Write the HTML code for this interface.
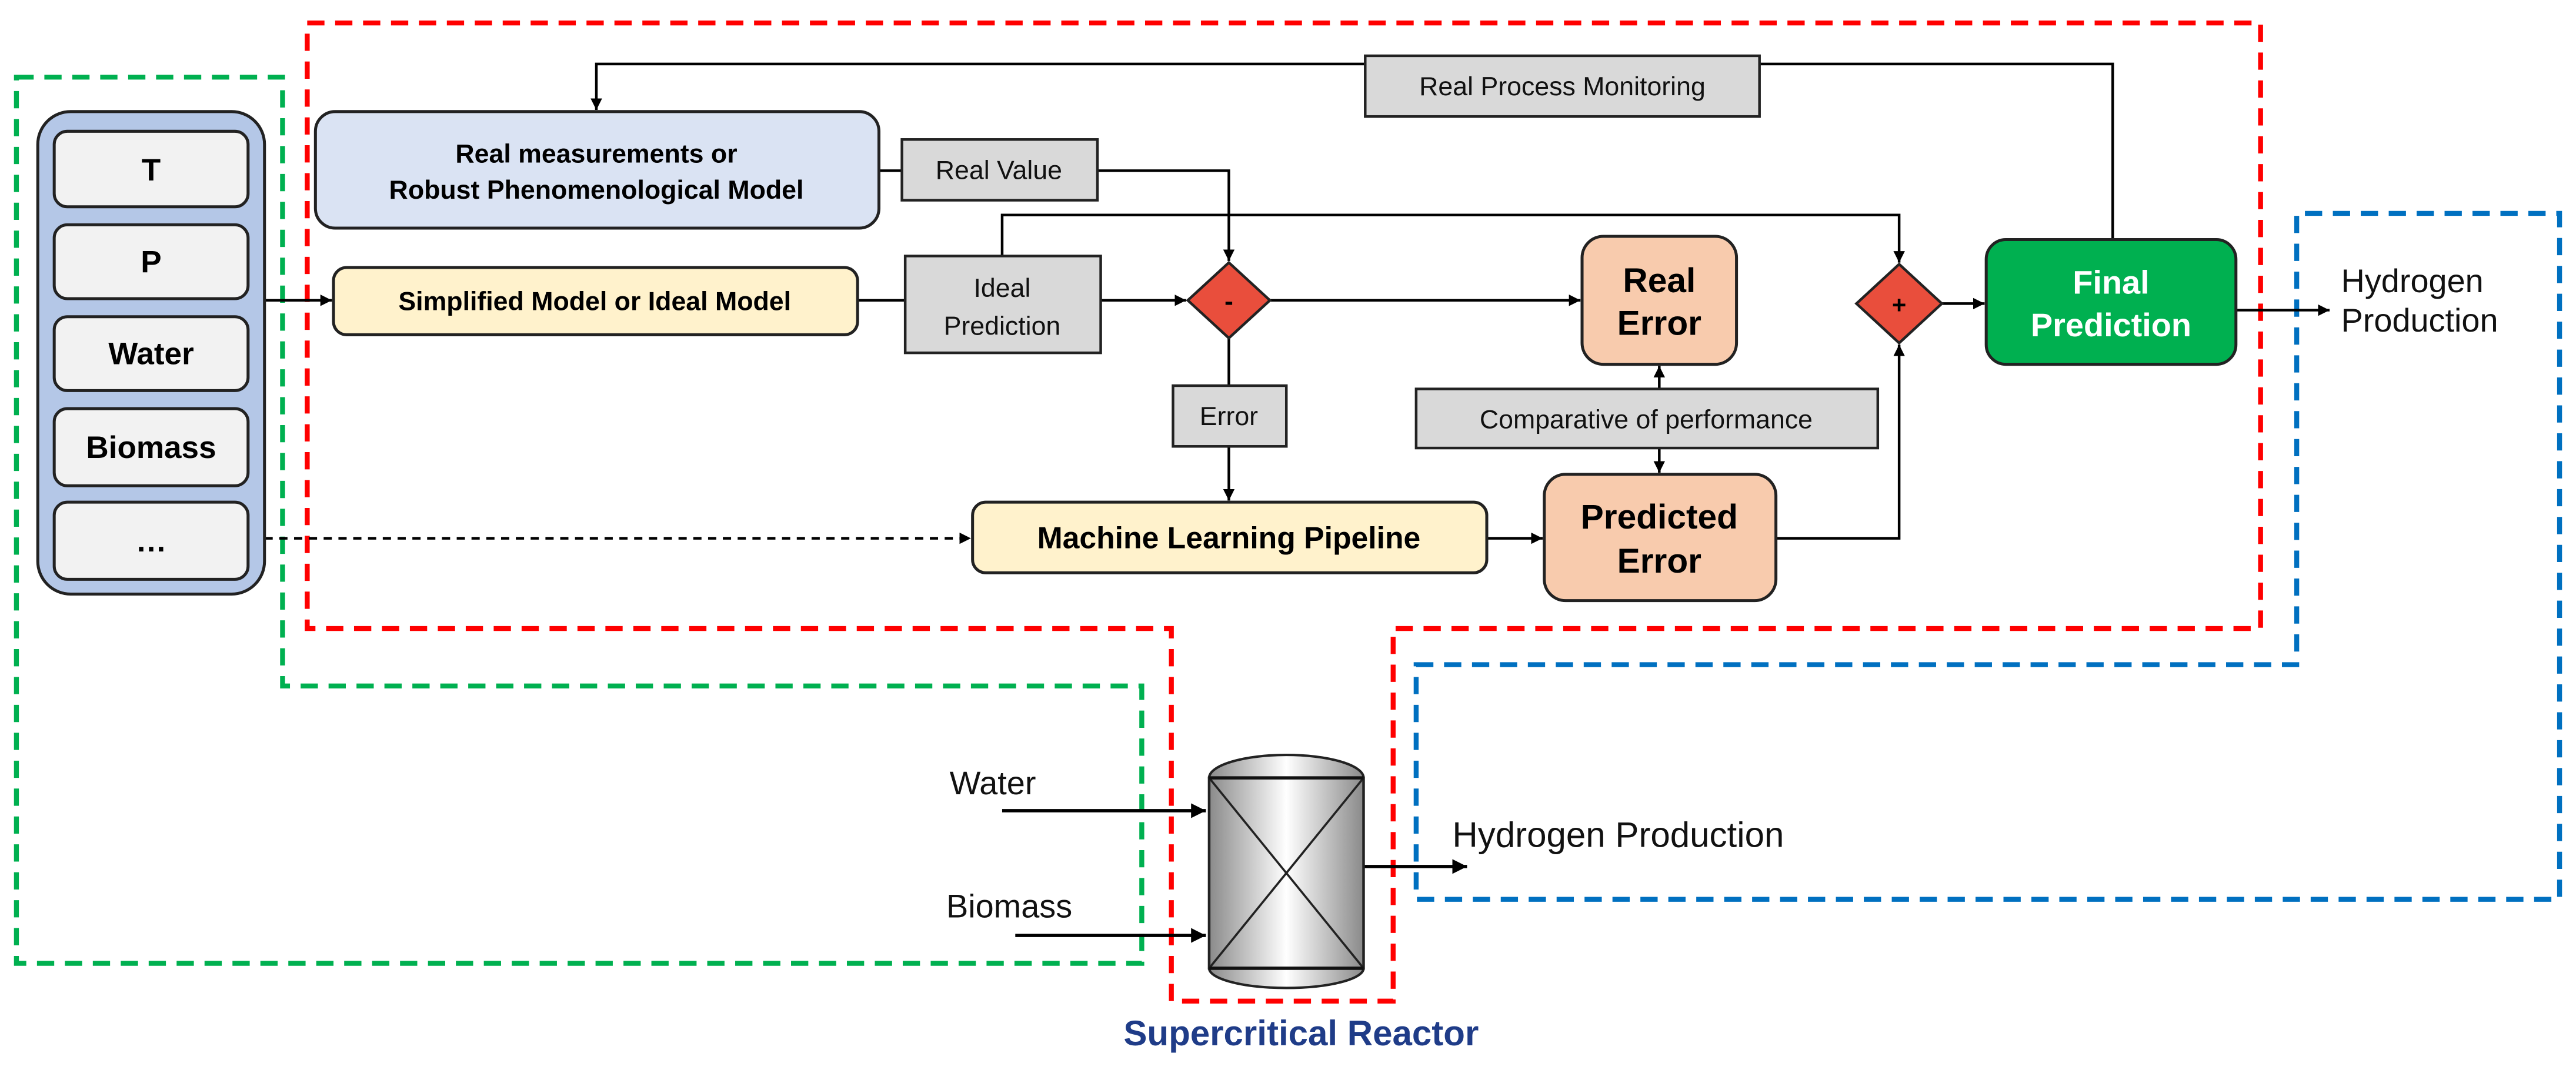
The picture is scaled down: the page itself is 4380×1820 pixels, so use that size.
<!DOCTYPE html>
<html><head><meta charset="utf-8"><style>
html,body{margin:0;padding:0;background:#fff;}
svg{display:block;}
text{font-family:"Liberation Sans",Arial,sans-serif;}
</style></head><body>
<svg width="4380" height="1820" viewBox="0 0 1568 652" preserveAspectRatio="none" xmlns="http://www.w3.org/2000/svg">
<defs>
<marker id="a" viewBox="0 0 10 10" refX="10" refY="5" markerWidth="7" markerHeight="7" orient="auto" markerUnits="userSpaceOnUse"><path d="M0,0 L10,5 L0,10 z" fill="#000"/></marker>
<marker id="b" viewBox="0 0 10 10" refX="10" refY="5" markerWidth="9" markerHeight="9" orient="auto" markerUnits="userSpaceOnUse"><path d="M0,0 L10,5 L0,10 z" fill="#000"/></marker>
<linearGradient id="g" x1="0" x2="1" y1="0" y2="0"><stop offset="0" stop-color="#8a8a8a"/><stop offset="0.5" stop-color="#fff"/><stop offset="1" stop-color="#8a8a8a"/></linearGradient>
</defs>
<g fill="none" stroke-width="3" stroke-dasharray="10.5 6.5">
<path d="M10,47 H172 V418 H695 V587 H10 Z" stroke="#00b050"/>
<path d="M187,14 H1376 V383 H848 V610 H713 V383 H187 Z" stroke="#ff0000"/>
<path d="M862,405 H1398 V130 H1558 V548 H862 Z" stroke="#0070c0"/>
</g>
<g fill="none" stroke="#000" stroke-width="1.6">
<path d="M1286,146 V39 H363 V67" marker-end="url(#a)"/>
<path d="M535,104 H549"/>
<path d="M668,104 H748 V159" marker-end="url(#a)"/>
<path d="M522,183 H551"/>
<path d="M670,183 H722" marker-end="url(#a)"/>
<path d="M610,156 V131 H1156 V160" marker-end="url(#a)"/>
<path d="M773,183 H962" marker-end="url(#a)"/>
<path d="M748,206 V235"/>
<path d="M748,272 V305" marker-end="url(#a)"/>
<path d="M161,183 H202" marker-end="url(#a)"/>
<path d="M161,328 H591" stroke-dasharray="5 4" marker-end="url(#a)"/>
<path d="M905,328 H939" marker-end="url(#a)"/>
<path d="M1081,328 H1156 V210" marker-end="url(#a)"/>
<path d="M1010,237 V223" marker-end="url(#a)"/>
<path d="M1010,273 V288" marker-end="url(#a)"/>
<path d="M1182,185 H1208" marker-end="url(#a)"/>
<path d="M1361,189 H1418" marker-end="url(#a)"/>
<path d="M610,494 H734" stroke-width="2" marker-end="url(#b)"/>
<path d="M618,570 H734" stroke-width="2" marker-end="url(#b)"/>
<path d="M830,528 H893" stroke-width="2" marker-end="url(#b)"/>
</g>
<rect x="23" y="68" width="138" height="294" rx="20" fill="#b4c7e7" stroke="#222" stroke-width="1.8"/>
<g fill="#f2f2f2" stroke="#222" stroke-width="1.8">
<rect x="33" y="80" width="118" height="46" rx="8"/>
<rect x="33" y="137" width="118" height="45" rx="8"/>
<rect x="33" y="193" width="118" height="45" rx="8"/>
<rect x="33" y="249" width="118" height="47" rx="8"/>
<rect x="33" y="306" width="118" height="47" rx="8"/>
</g>
<g font-size="19" font-weight="bold" text-anchor="middle" fill="#000">
<text x="92" y="110">T</text>
<text x="92" y="166">P</text>
<text x="92" y="222">Water</text>
<text x="92" y="279">Biomass</text>
<text x="92" y="336">…</text>
</g>
<rect x="192" y="68" width="343" height="71" rx="12" fill="#dae3f3" stroke="#222" stroke-width="1.8"/>
<text x="363" y="99" font-size="16" font-weight="bold" text-anchor="middle">Real measurements or</text>
<text x="363" y="121" font-size="16" font-weight="bold" text-anchor="middle">Robust Phenomenological Model</text>
<rect x="203" y="163" width="319" height="41" rx="8" fill="#fff2cc" stroke="#222" stroke-width="1.8"/>
<text x="362" y="189" font-size="16" font-weight="bold" text-anchor="middle">Simplified Model or Ideal Model</text>
<rect x="592" y="306" width="313" height="43" rx="8" fill="#fff2cc" stroke="#222" stroke-width="1.8"/>
<text x="748" y="334" font-size="18.5" font-weight="bold" text-anchor="middle">Machine Learning Pipeline</text>
<g fill="#d9d9d9" stroke="#222" stroke-width="1.6">
<rect x="549" y="85" width="119" height="37"/>
<rect x="551" y="156" width="119" height="59"/>
<rect x="714" y="235" width="69" height="37"/>
<rect x="831" y="34" width="240" height="37"/>
<rect x="862" y="237" width="281" height="36"/>
</g>
<g font-size="16" text-anchor="middle" fill="#111">
<text x="608" y="109">Real Value</text>
<text x="610" y="181">Ideal</text>
<text x="610" y="204">Prediction</text>
<text x="748" y="259">Error</text>
<text x="951" y="58">Real Process Monitoring</text>
<text x="1002" y="261">Comparative of performance</text>
</g>
<path d="M748,160 L773,183 L748,206 L723,183 Z" fill="#e94e3c" stroke="#222" stroke-width="1.6"/>
<text x="748" y="189" font-size="16" font-weight="bold" text-anchor="middle">-</text>
<path d="M1156,161 L1182,185 L1156,209 L1130,185 Z" fill="#e94e3c" stroke="#222" stroke-width="1.6"/>
<text x="1156" y="191" font-size="15" font-weight="bold" text-anchor="middle">+</text>
<rect x="963" y="144" width="94" height="78" rx="13" fill="#f8cbad" stroke="#222" stroke-width="1.8"/>
<text x="1010" y="178" font-size="21" font-weight="bold" text-anchor="middle">Real</text>
<text x="1010" y="204" font-size="21" font-weight="bold" text-anchor="middle">Error</text>
<rect x="940" y="289" width="141" height="77" rx="13" fill="#f8cbad" stroke="#222" stroke-width="1.8"/>
<text x="1010" y="322" font-size="21" font-weight="bold" text-anchor="middle">Predicted</text>
<text x="1010" y="349" font-size="21" font-weight="bold" text-anchor="middle">Error</text>
<rect x="1209" y="146" width="152" height="76" rx="12" fill="#00b050" stroke="#222" stroke-width="1.8"/>
<text x="1285" y="179" font-size="20" font-weight="bold" text-anchor="middle" fill="#fff">Final</text>
<text x="1285" y="205" font-size="20" font-weight="bold" text-anchor="middle" fill="#fff">Prediction</text>
<g font-size="20" fill="#111">
<text x="1425" y="178">Hydrogen</text>
<text x="1425" y="202">Production</text>
<text x="578" y="484">Water</text>
<text x="576" y="559">Biomass</text>
<text x="884" y="516" font-size="21.5">Hydrogen Production</text>
</g>
<ellipse cx="783" cy="474" rx="47" ry="14" fill="url(#g)" stroke="#222" stroke-width="1.5"/>
<ellipse cx="783" cy="590" rx="47" ry="12" fill="url(#g)" stroke="#222" stroke-width="1.5"/>
<rect x="736" y="474" width="94" height="116" fill="url(#g)" stroke="#222" stroke-width="1.6"/>
<path d="M736,474 L830,590 M830,474 L736,590" stroke="#222" stroke-width="1.3"/>
<path d="M736,474 H830 M736,590 H830" stroke="#111" stroke-width="2"/>
<text x="792" y="637" font-size="21.5" font-weight="bold" text-anchor="middle" fill="#1f3c88">Supercritical Reactor</text>
</svg>
</body></html>
